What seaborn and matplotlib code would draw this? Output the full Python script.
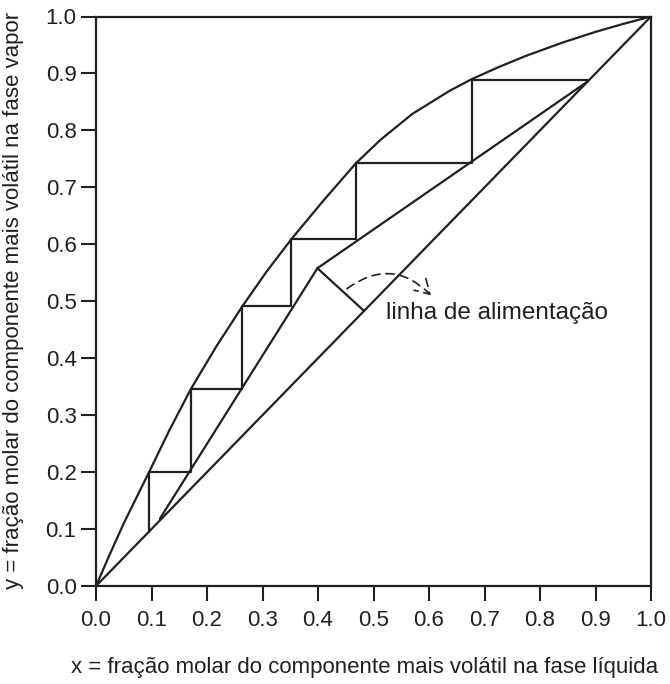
import numpy as np
import seaborn as sns
import matplotlib.pyplot as plt

# curva de equilíbrio
eq_x = [0.0, 0.025, 0.05, 0.0956, 0.133, 0.171, 0.217, 0.2636, 0.308, 0.352, 0.41, 0.468,
        0.512, 0.57, 0.638, 0.677, 0.725, 0.775, 0.84, 0.9, 0.95, 1.0]
eq_y = [0.0, 0.056, 0.110, 0.200, 0.275, 0.346, 0.421, 0.491, 0.553, 0.609, 0.677, 0.742,
        0.783, 0.829, 0.870, 0.890, 0.911, 0.931, 0.954, 0.973, 0.987, 1.0]

# pratos (degraus)
prato_x = [0.0956, 0.171, 0.2636, 0.352, 0.468, 0.677]
prato_y = [0.200, 0.346, 0.491, 0.609, 0.742, 0.889]

x_base = 0.0956
x_topo = 0.886
x_q, y_q = 0.399, 0.558      # interseção das retas de operação
x_alim = 0.483               # linha de alimentação na diagonal
x_esg0, y_esg0 = 0.115, 0.118

cor = '#231f20'

sns.set_theme(style='ticks')
plt.rcParams['font.family'] = ['Liberation Sans', 'DejaVu Sans']

fig = plt.figure(figsize=(6.7, 6.84), dpi=100)
ax = fig.add_axes([96/670, 1-586/684, 555/670, 569.5/684])

lw = 1.6

def linha(xs, ys, **kw):
    sns.lineplot(x=xs, y=ys, ax=ax, sort=False, estimator=None, color=cor, linewidth=lw, **kw)

# diagonal
linha([0, 1], [0, 1])
# equilíbrio
linha(eq_x, eq_y)

# degraus
sx = [x_base]
sy = [x_base]
prox_x = prato_x[1:] + [x_topo]
for px, py, nx in zip(prato_x, prato_y, prox_x):
    sx += [px, nx]
    sy += [py, py]
linha(sx, sy)

# reta de retificação
linha([x_q, x_topo], [y_q, x_topo])
# reta de esgotamento
linha([x_esg0, x_q], [y_esg0, y_q])
# linha de alimentação
linha([x_q, x_alim], [y_q, x_alim])

# seta tracejada
ax.annotate('', xy=(0.607, 0.507), xytext=(0.448, 0.519),
            arrowprops=dict(arrowstyle='->,head_length=0.5,head_width=0.3', color=cor, lw=1.2,
                            linestyle=(0, (5, 3.5)),
                            connectionstyle='arc3,rad=-0.45', mutation_scale=20))
ax.text(0.522, 0.479, 'linha de alimentação', fontsize=17.5, color=cor, va='center', ha='left')

ax.set_xlim(0, 1)
ax.set_ylim(0, 1)
ticks = np.round(np.arange(0, 1.01, 0.1), 1)
ax.set_xticks(ticks)
ax.set_yticks(ticks)
ax.set_xticklabels([f'{t:.1f}' for t in ticks])
ax.set_yticklabels([f'{t:.1f}' for t in ticks])
ax.tick_params(axis='both', length=11, width=1.5, color=cor, labelcolor=cor, labelsize=16)
ax.tick_params(axis='x', pad=6)
ax.tick_params(axis='y', pad=3)
for s in ax.spines.values():
    s.set_linewidth(1.6)
    s.set_color(cor)

fig.text(365/670, 1-667/684, 'x = fração molar do componente mais volátil na fase líquida',
         ha='center', va='center', fontsize=16, color=cor)
fig.text(14/670, 1-300/684, 'y = fração molar do componente mais volátil na fase vapor',
         ha='center', va='center', rotation=90, fontsize=16, color=cor)

fig.savefig('out.png', dpi=100)
